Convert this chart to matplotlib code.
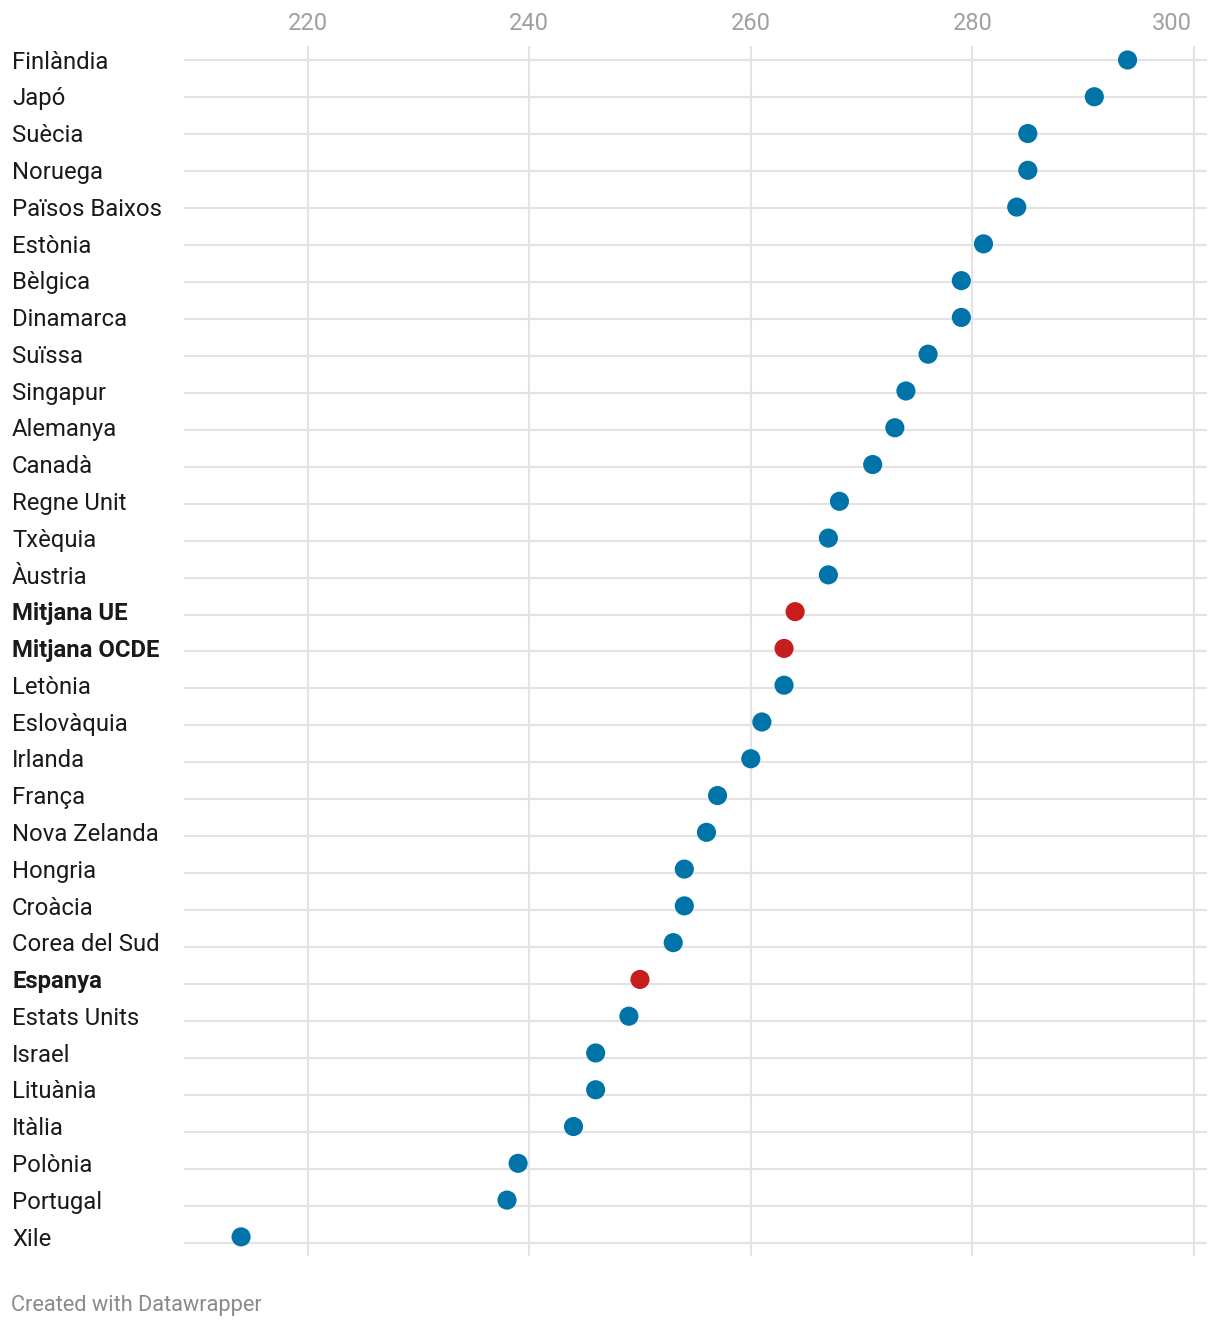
import matplotlib
matplotlib.use("Agg")
import matplotlib.pyplot as plt
import matplotlib.transforms as mtransforms

countries = ["Finlàndia", "Japó", "Suècia", "Noruega", "Països Baixos", "Estònia",
             "Bèlgica", "Dinamarca", "Suïssa", "Singapur", "Alemanya", "Canadà",
             "Regne Unit", "Txèquia", "Àustria", "Mitjana UE", "Mitjana OCDE",
             "Letònia", "Eslovàquia", "Irlanda", "França", "Nova Zelanda", "Hongria",
             "Croàcia", "Corea del Sud", "Espanya", "Estats Units", "Israel",
             "Lituània", "Itàlia", "Polònia", "Portugal", "Xile"]
values = [294, 291, 285, 285, 284, 281, 279, 279, 276, 274, 273, 271, 268, 267, 267,
          264, 263, 263, 261, 260, 257, 256, 254, 254, 253, 250, 249, 246, 246, 244,
          239, 238, 214]
highlight = ["Mitjana UE", "Mitjana OCDE", "Espanya"]
xticks = [220, 240, 260, 280, 300]

BLUE = "#0073a8"
RED = "#c71e1d"
GRID = "#e3e3e3"

plt.rcParams['font.family'] = ['Roboto', 'DejaVu Sans']

fig = plt.figure(figsize=(12.2, 13.28), dpi=100)
ax = fig.add_axes([184/1220, 1 - 1256/1328, (1207-184)/1220, (1256-46)/1328])
ax.set_xlim(208.85, 301.17)
n = len(countries)
ax.set_ylim(32.52, -0.38)

for s in ax.spines.values():
    s.set_visible(False)

for t in xticks:
    ax.axvline(t, color=GRID, lw=1.5, zorder=1)
for i in range(n):
    ax.axhline(i * 1.0052, color=GRID, lw=1.5, zorder=1)

ys = list(range(n))
colors = [RED if c in highlight else BLUE for c in countries]
ax.scatter(values, ys, s=190, c=colors, zorder=3, linewidths=0)

ax.set_yticks([])
ax.set_xticks([])
tick_trans = mtransforms.blended_transform_factory(ax.transData, fig.transFigure)
for k, t in enumerate(xticks):
    last = k == len(xticks) - 1
    ax.text(t - (0.15 if last else 0), 1 - 24/1328, str(t), transform=tick_trans,
            ha='right' if last else 'center', va='center',
            fontsize=17, color="#a0a0a0")

trans = mtransforms.blended_transform_factory(fig.transFigure, ax.transData)
for i, c in enumerate(countries):
    ax.text(12/1220, i + 0.06, c, transform=trans, ha='left', va='center',
            fontsize=17.2, color="#1a1a1a",
            fontweight='bold' if c in highlight else 'normal')

fig.text(11/1220, 1 - 1306/1328, "Created with Datawrapper", ha='left', va='center',
         fontsize=15.7, color="#8a8a8a")

fig.savefig("out.png", dpi=100, facecolor="white")
